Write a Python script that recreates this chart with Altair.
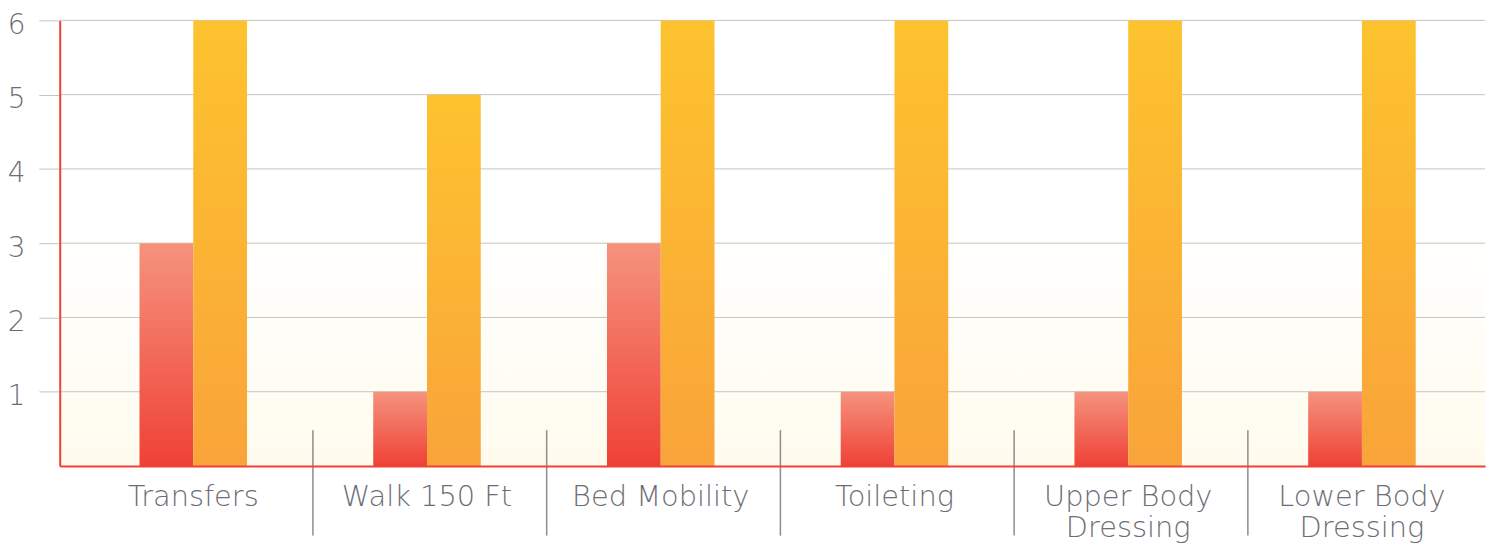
import altair as alt
import pandas as pd

categories = ["Transfers", "Walk 150 Ft", "Bed Mobility", "Toileting",
              "Upper Body Dressing", "Lower Body Dressing"]
series_names = ["Admission", "Discharge"]
admission = [3, 1, 3, 1, 1, 1]
discharge = [6, 5, 6, 6, 6, 6]
y_ticks = [1, 2, 3, 4, 5, 6]

rows = []
for c, a, d in zip(categories, admission, discharge):
    rows.append({"category": c, "series": series_names[0], "value": a})
    rows.append({"category": c, "series": series_names[1], "value": d})
df = pd.DataFrame(rows)
sep_df = pd.DataFrame({"category": categories[1:]})
tick_df = pd.DataFrame({"value": y_ticks})

FONT = "DejaVu Sans"
LABEL = "#6d6e75"
AXIS_RED = "#ef4136"
GRID = "#c4c4c4"
W, H = 1433, 448

red_grad = {"gradient": "linear", "x1": 0, "y1": 1, "x2": 0, "y2": 0,
            "stops": [{"offset": 0, "color": "#ef4136"},
                      {"offset": 1, "color": "#f5937d"}]}
orange_grad = {"gradient": "linear", "x1": 0, "y1": 1, "x2": 0, "y2": 0,
               "stops": [{"offset": 0, "color": "#f9a43a"},
                         {"offset": 1, "color": "#fdc32e"}]}
bg_grad = {"gradient": "linear", "x1": 0, "y1": 0, "x2": 0, "y2": 1,
           "stops": [{"offset": 0, "color": "#ffffff"},
                     {"offset": 0.45, "color": "#ffffff"},
                     {"offset": 1, "color": "#fffbee"}]}

y_scale = alt.Scale(domain=[0, 6], nice=False)

x_enc = alt.X(
    "category:N", sort=categories,
    scale=alt.Scale(domain=categories, paddingInner=0.54, paddingOuter=0.319,
                    align=0.535),
    axis=alt.Axis(title=None, ticks=False, domainColor=AXIS_RED, domainWidth=2,
                  zindex=1,
                  labelFont=FONT, labelFontSize=29, labelFontWeight=200,
                  labelColor=LABEL, labelPadding=17, labelAngle=0,
                  labelLineHeight=31,
                  labelExpr="length(datum.label) > 14 ? [slice(datum.label, 0, lastindexof(datum.label, ' ')), slice(datum.label, lastindexof(datum.label, ' ') + 1)] : datum.label"),
)
y_axis = alt.Axis(title=None, values=y_ticks, grid=False, zindex=1,
                  tickColor=GRID, tickSize=21, domainColor=AXIS_RED,
                  domainWidth=2, labelFont=FONT, labelFontSize=28,
                  labelFontWeight=200, labelColor=LABEL, labelPadding=14,
                  labelBaseline="middle", labelFlush=False, labelOffset=5)
y_enc = alt.Y("value:Q", scale=y_scale, axis=y_axis)
xo_enc = alt.XOffset("series:N", scale=alt.Scale(domain=series_names))

bg = alt.Chart(pd.DataFrame({"k": [0]})).mark_rect(fill=bg_grad).encode(
    x=alt.value(0), x2=alt.value(W), y=alt.value(0), y2=alt.value(H))

grid = alt.Chart(tick_df).mark_rule(color=GRID, strokeWidth=1).encode(y=y_enc)

base = alt.Chart(df)
red_bars = base.transform_filter(alt.datum.series == series_names[0]).mark_bar(
    fill=red_grad).encode(x=x_enc, y=y_enc, xOffset=xo_enc)
orange_bars = base.transform_filter(alt.datum.series == series_names[1]).mark_bar(
    fill=orange_grad).encode(x=x_enc, y=y_enc, xOffset=xo_enc)

seps = alt.Chart(sep_df).mark_rule(color="#8c8c8c", strokeWidth=1.5).encode(
    x=alt.X("category:N", bandPosition=0,
            scale=alt.Scale(domain=categories, paddingInner=0, paddingOuter=0.049,
                            align=0.85),
            axis=None),
    y=alt.value(412),
    y2=alt.value(518),
)

chart = alt.layer(alt.layer(bg, grid, red_bars, orange_bars), seps).resolve_scale(
    x="independent"
).properties(
    width=W, height=H,
    autosize=alt.AutoSizeParams(type="none"),
    padding={"left": 52, "top": 11, "right": 8, "bottom": 80},
).configure_view(stroke=None)

chart.save("out.html", embed_options={"renderer": "svg", "actions": False})
